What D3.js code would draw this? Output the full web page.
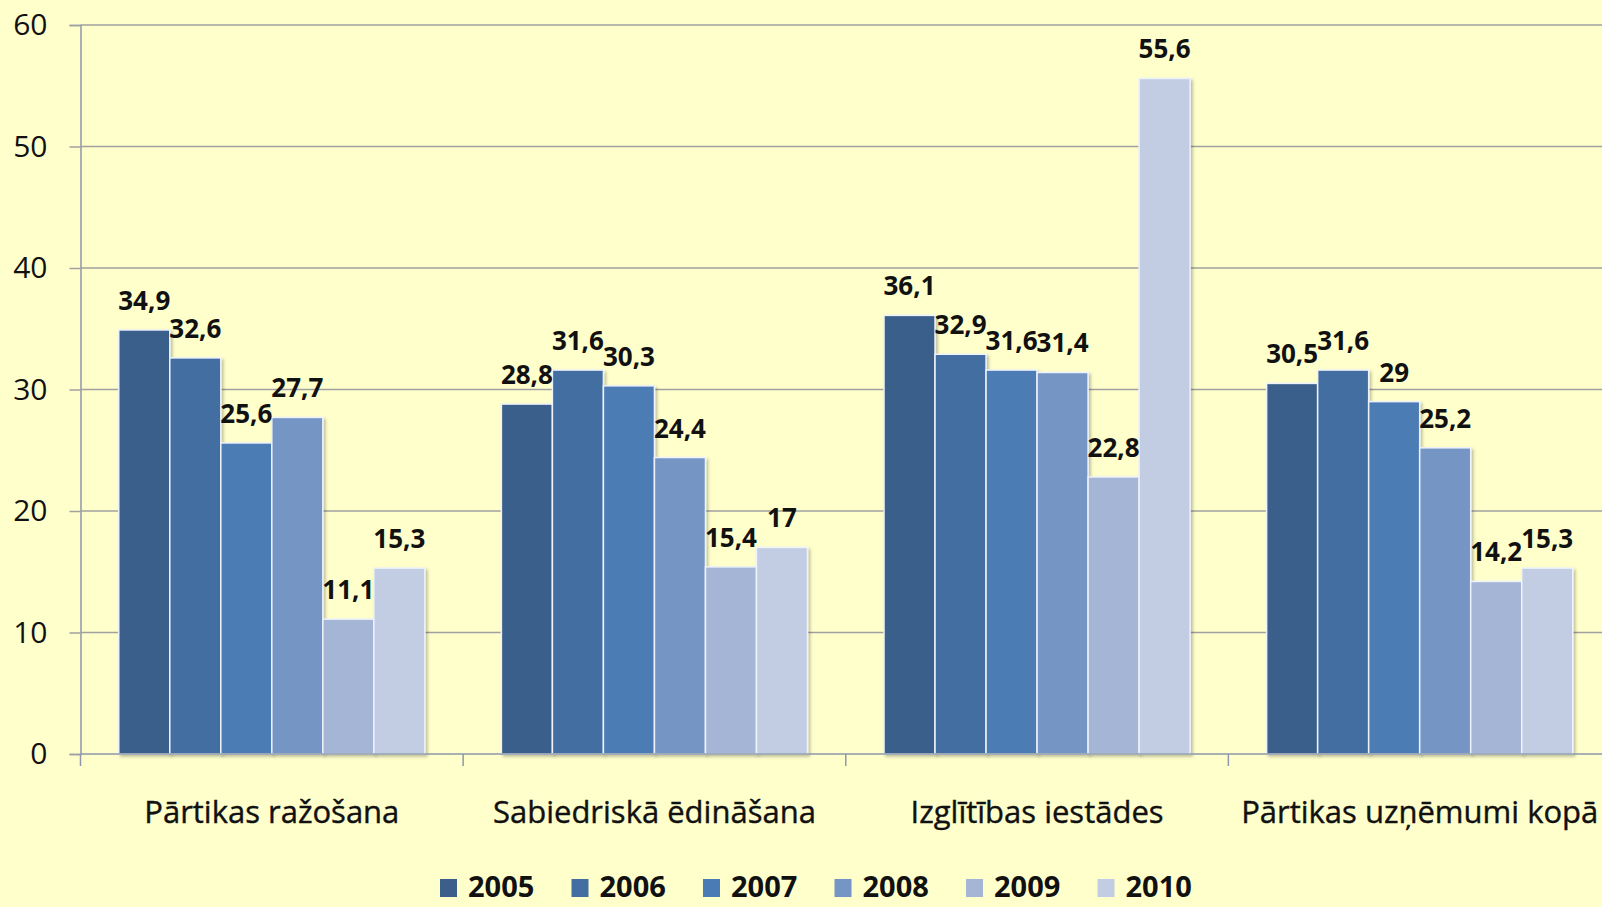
<!DOCTYPE html>
<html><head><meta charset="utf-8">
<script src="https://cdn.jsdelivr.net/npm/d3@7/dist/d3.min.js"></script>
<style>
html,body{margin:0;padding:0;background:#ffffcc;overflow:hidden;}
svg{display:block;}
</style></head>
<body>
<svg id="chart" width="1602" height="907"></svg>
<script>
const categories = ["Pārtikas ražošana", "Sabiedriskā ēdināšana", "Izglītības iestādes", "Pārtikas uzņēmumi kopā"];
const years = ["2005", "2006", "2007", "2008", "2009", "2010"];
const values2005 = [34.9, 28.8, 36.1, 30.5];
const values2006 = [32.6, 31.6, 32.9, 31.6];
const values2007 = [25.6, 30.3, 31.6, 29];
const values2008 = [27.7, 24.4, 31.4, 25.2];
const values2009 = [11.1, 15.4, 22.8, 14.2];
const values2010 = [15.3, 17, 55.6, 15.3];
const yTicks = [0, 10, 20, 30, 40, 50, 60];
const colors = ["#3b5e8b", "#436ea2", "#4b7bb4", "#7595c5", "#a4b5d6", "#c2cde4"];

const series = [values2005, values2006, values2007, values2008, values2009, values2010];
const fmt = v => String(v).replace(".", ",");

const svg = d3.select("#chart");
const font = "'Open Sans', 'Liberation Sans', sans-serif";

const defs = svg.append("defs");
const f = defs.append("filter").attr("id", "sh").attr("x", "-10%").attr("y", "-10%").attr("width", "130%").attr("height", "130%");
f.append("feDropShadow").attr("dx", 2).attr("dy", 2).attr("stdDeviation", 1.5).attr("flood-color", "#000").attr("flood-opacity", 0.25);

const mLeft = 80.5, mRight = 1611, mTop = 25, mBottom = 754;
const y = d3.scaleLinear().domain([0, 60]).range([mBottom, mTop]);
const x0 = d3.scaleBand().domain(categories).range([mLeft, mRight]).padding(0);
const x1 = d3.scaleBand().domain(years).range([0, x0.bandwidth()]).paddingInner(0).paddingOuter(0.75);

// gridlines + y axis
const yAxis = d3.axisLeft(y).tickValues(yTicks).tickSize(11).tickPadding(22).tickFormat(d => d);
const gy = svg.append("g").attr("transform", `translate(${mLeft},0)`).call(yAxis);
gy.select(".domain").attr("stroke", "#8d98aa").attr("stroke-width", 1.5);
gy.selectAll(".tick line").attr("stroke", "#a0a0a0").attr("stroke-width", 1.5);
gy.selectAll(".tick text").attr("font-family", font).attr("font-size", 30).attr("fill", "#111");

svg.append("g").selectAll("line").data(yTicks.filter(t => t > 0)).join("line")
  .attr("x1", mLeft).attr("x2", 1602).attr("y1", d => y(d)).attr("y2", d => y(d))
  .attr("stroke", "#a0a0a0").attr("stroke-width", 1.5);

// bars
const groups = svg.append("g").selectAll("g").data(categories).join("g")
  .attr("transform", d => `translate(${x0(d)},0)`);
groups.each(function(cat, ci) {
  const g = d3.select(this);
  years.forEach((yr, si) => {
    const v = series[si][ci];
    g.append("rect")
      .attr("x", x1(yr)).attr("y", y(v))
      .attr("width", x1.bandwidth()).attr("height", y(0) - y(v))
      .attr("fill", colors[si]).attr("stroke", "#eef2fa").attr("stroke-width", 1.5)
      .attr("filter", "url(#sh)");
  });
});
groups.each(function(cat, ci) {
  const g = d3.select(this);
  years.forEach((yr, si) => {
    const v = series[si][ci];
    g.append("text")
      .attr("x", x1(yr) + x1.bandwidth() / 2).attr("y", y(v) - 20)
      .attr("text-anchor", "middle").attr("font-family", font).attr("font-weight", "bold")
      .attr("font-size", 26).attr("fill", "#111").text(fmt(v));
  });
});

// x axis
const xAxis = d3.axisBottom(x0).tickSize(0).tickPadding(47);
const gx = svg.append("g").attr("transform", `translate(0,${mBottom})`).call(xAxis);
gx.select(".domain").attr("stroke", "#8d98aa").attr("stroke-width", 1.5).attr("d", `M${mLeft},0H1602`);
gx.selectAll(".tick text").attr("font-family", font).attr("font-size", 31).attr("fill", "#111")
  .attr("stroke", "#111").attr("stroke-width", 0.4);
const boundaries = categories.map(c => x0(c));
gx.append("g").selectAll("line").data(boundaries).join("line")
  .attr("x1", d => d).attr("x2", d => d).attr("y1", 0).attr("y2", 12)
  .attr("stroke", "#8d98aa").attr("stroke-width", 1.5);

// legend
const legend = svg.append("g").attr("transform", "translate(440,879)");
const leg = legend.selectAll("g").data(years).join("g").attr("transform", (d, i) => `translate(${i * 131.5},0)`);
leg.append("rect").attr("width", 17).attr("height", 18).attr("fill", (d, i) => colors[i]);
leg.append("text").attr("x", 28).attr("y", 18).attr("font-family", font).attr("font-weight", "bold")
  .attr("font-size", 29).attr("fill", "#111").text(d => d);
</script>
</body></html>
